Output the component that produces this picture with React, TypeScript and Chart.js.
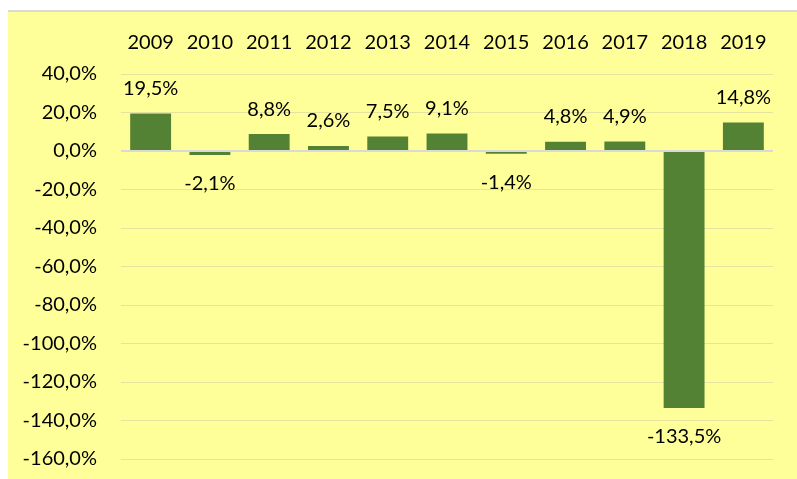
import React, { useEffect, useRef } from "react";
import { Chart, registerables } from "chart.js";

Chart.register(...registerables);

const categories = ["2009", "2010", "2011", "2012", "2013", "2014", "2015", "2016", "2017", "2018", "2019"];
const values = [19.5, -2.1, 8.8, 2.6, 7.5, 9.1, -1.4, 4.8, 4.9, -133.5, 14.8];
const yMin = -160;
const yMax = 40;
const yStep = 20;

const FONT = "Lato, 'Open Sans', sans-serif";
const fmt = (v: number) => v.toFixed(1).replace(".", ",") + "%";

const labelPlugin = {
  id: "barLabels",
  afterDatasetsDraw(chart: any) {
    const ctx = chart.ctx;
    const meta = chart.getDatasetMeta(0);
    ctx.save();
    ctx.font = `20px ${FONT}`;
    ctx.fillStyle = "#000000";
    ctx.textAlign = "center";
    ctx.textBaseline = "middle";
    meta.data.forEach((el: any, i: number) => {
      const v = values[i];
      const y = v >= 0 ? el.y - 25 : el.y + 29;
      ctx.fillText(fmt(v), el.x, y);
    });
    ctx.restore();
  },
};

export default function App() {
  const ref = useRef<HTMLCanvasElement>(null);
  useEffect(() => {
    if (!ref.current) return;
    const chart = new Chart(ref.current, {
      type: "bar",
      data: {
        labels: categories,
        datasets: [
          {
            data: values,
            backgroundColor: "#548235",
            borderWidth: 0,
            categoryPercentage: 1,
            barPercentage: 0.69,
          },
        ],
      },
      options: {
        responsive: false,
        animation: false,
        devicePixelRatio: 1,
        layout: { padding: { left: 0, right: 24, top: 0, bottom: 20 } },
        plugins: { legend: { display: false }, tooltip: { enabled: false } },
        scales: {
          x: {
            position: "top",
            grid: { display: false, drawTicks: false },
            border: { display: false },
            ticks: { color: "#000", font: { family: FONT, size: 20 }, padding: 19, maxRotation: 0 },
            afterFit: (s: any) => {
              s.height = 62;
              s.paddingLeft = 0;
              s.paddingRight = 0;
            },
          },
          y: {
            min: yMin,
            max: yMax,
            border: { display: false },
            grid: {
              drawTicks: false,
              color: (c: any) => (c.tick && c.tick.value === 0 ? "#D9D9D9" : "#E6E3A0"),
              lineWidth: (c: any) => (c.tick && c.tick.value === 0 ? 2 : 1),
            },
            ticks: {
              stepSize: yStep,
              color: "#000",
              font: { family: FONT, size: 20 },
              padding: 24,
              callback: (v: any) => fmt(Number(v)),
            },
            afterFit: (s: any) => {
              s.width = 113;
              s.paddingTop = 0;
              s.paddingBottom = 0;
            },
          },
        },
      },
      plugins: [labelPlugin],
    });
    return () => chart.destroy();
  }, []);
  return (
    <div
      style={{
        position: "absolute",
        left: 8,
        top: 10,
        width: 789,
        height: 469,
        borderTop: "2px solid #D9D9D9",
        background: "#FFFF99",
        boxSizing: "border-box",
        overflow: "hidden",
      }}
    >
      <canvas ref={ref} width={789} height={467} style={{ display: "block" }} />
    </div>
  );
}
